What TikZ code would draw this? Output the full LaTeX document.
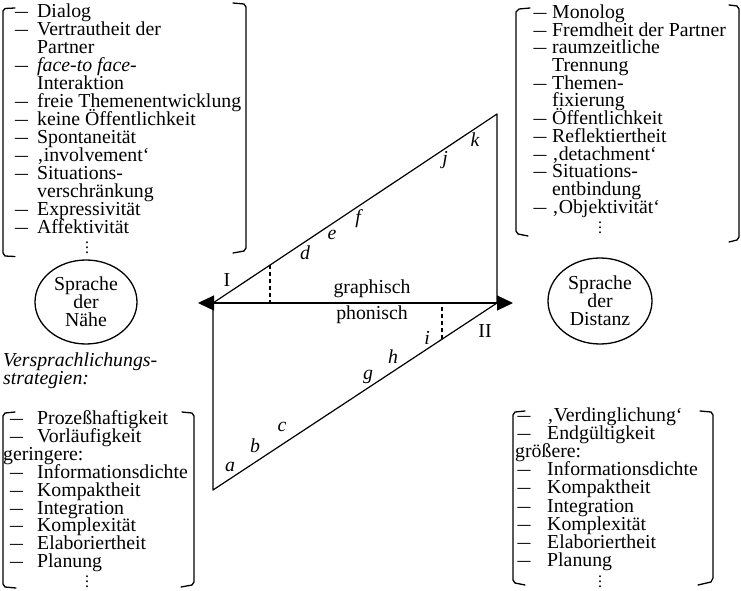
\documentclass[tikz,border=0pt]{standalone}
\usepackage{fontspec}
\setmainfont{Liberation Serif}
\usepackage{graphicx}
\usetikzlibrary{arrows.meta,shapes.geometric}
\tikzset{
  txt/.style={inner sep=0pt, font=\fontsize{19.8}{18}\selectfont},
  itemsty/.style={txt, anchor=base west},
  dashsty/.style={txt, anchor=base},
  lbl/.style={txt},
  ilbl/.style={txt, font=\fontsize{19.8}{18}\selectfont\itshape},
  brk/.style={line width=1.3pt, line join=round, line cap=round},
  diag/.style={line width=1.2pt, line join=round},
  dsh/.style={line width=1.2pt, dash pattern=on 4pt off 3pt},
  circ/.style={txt, draw, ellipse, line width=1.3pt, align=center},
  dotsty/.style={txt, font=\fontsize{16}{5}\selectfont},
}
\newcommand\myvdots{\vbox{\baselineskip=5pt\lineskiplimit=-10pt\hbox{.}\hbox{.}\hbox{.}}}
\newcommand\drawlist[7]{%
  \foreach \k/\t [count=\i] in {#7}{%
    \pgfmathsetmacro\yy{#5+(\i-1)*#6}
    \ifnum\k=1 \node[dashsty] (#1-d\i) at (#2,\yy) {\scalebox{1.3}[1]{–}};\fi
    \ifnum\k=2 \node[itemsty] (#1-\i) at (#4,\yy) {\t};
    \else \node[itemsty] (#1-\i) at (#3,\yy) {\t};\fi
  }}
\begin{document}
\begin{tikzpicture}[x=1pt,y=-1pt]
\useasboundingbox (0,0) rectangle (741,591);

% ---------- lists ----------
\drawlist{tl}{21.5}{37}{3}{17.5}{17.97}{1/Dialog, 1/Vertrautheit der, 0/Partner, 1/{\itshape face-to face-}, 0/Interaktion, 1/freie Themenentwicklung, 1/keine Öffentlichkeit, 1/Spontaneität, 1/‚involvement‘, 1/Situations-, 0/verschränkung, 1/Expressivität, 1/Affektivität}
\node[dotsty] (tl-dots) at (87,248) {\myvdots};

\drawlist{tr}{540}{552}{516}{18.5}{17.7}{1/Monolog, 1/Fremdheit der Partner, 1/raumzeitliche, 0/Trennung, 1/Themen-, 0/fixierung, 1/Öffentlichkeit, 1/Reflektiertheit, 1/‚detachment‘, 1/Situations-, 0/entbindung, 1/‚Objektivität‘}
\node[dotsty] (tr-dots) at (600,228) {\myvdots};

\drawlist{bl}{16.5}{37}{3}{424.5}{17.9}{1/Prozeßhaftigkeit, 1/Vorläufigkeit, 2/geringere:, 1/Informationsdichte, 1/Kompaktheit, 1/Integration, 1/Komplexität, 1/Elaboriertheit, 1/Planung}
\node[dotsty] (bl-dots) at (87,582) {\myvdots};

\drawlist{br}{524}{547}{515}{421.5}{18.1}{1/‚Verdinglichung‘, 1/Endgültigkeit, 2/größere:, 1/Informationsdichte, 1/Kompaktheit, 1/Integration, 1/Komplexität, 1/Elaboriertheit, 1/Planung}
\node[dotsty] (br-dots) at (600,582) {\myvdots};

% ---------- brackets ----------
% top left
\draw[brk] (15,8) -- (5,8.5) -- (3,11) -- (3,253) -- (5,256) -- (15,256.5);
\draw[brk] (233,3) -- (244,4) -- (246,7) -- (246,248) -- (244,251) -- (233,253);
% top right
\draw[brk] (530,8) -- (519,9) -- (516,12) -- (516,231) -- (518,234) -- (528,236);
\draw[brk] (729,5) -- (737,6) -- (739,9) -- (739,237) -- (737,240) -- (729,242);
% bottom left
\draw[brk] (15,412) -- (5,413) -- (3,416) -- (3,584) -- (5,587) -- (16,588);
\draw[brk] (182,412) -- (192,413) -- (194,416) -- (194,582) -- (192,585) -- (181,587);
% bottom right
\draw[brk] (525,411) -- (515,412) -- (513,415) -- (513,580) -- (515,583) -- (525,585);
\draw[brk] (700,411) -- (711,412) -- (713,415) -- (713,578) -- (711,582) -- (698,585);

% ---------- ellipses ----------
\node[circ, minimum width=102pt, minimum height=84pt] (naehe) at (86,302) {Sprache\\der\\Nähe};
\node[circ, minimum width=104pt, minimum height=86pt] (distanz) at (600,301) {Sprache\\der\\Distanz};

\node[ilbl, anchor=base west] (vs1) at (3,366) {Versprachlichungs-};
\node[ilbl, anchor=base west] (vs2) at (3,384) {strategien:};

% ---------- central diagram ----------
\coordinate (L) at (213,303);
\coordinate (R) at (497,303);
\coordinate (T) at (497,114);
\coordinate (B) at (213,490);
\coordinate (LA) at (198,303);
\coordinate (RA) at (513,303);

\draw[diag] (L) -- (T) -- (R);
\draw[diag] (L) -- (B) -- (R);
\draw[diag, {Triangle[length=16pt,width=15pt]}-{Triangle[length=16pt,width=15pt]}] (LA) -- (RA);

\path (L) -- (T) coordinate[pos=0.2007] (D1);
\path (B) -- (R) coordinate[pos=0.806] (D2);
\draw[dsh] (D1) -- (D1 |- L);
\draw[dsh] (D2) -- (D2 |- R);

\node[lbl] (lI) at (227,280) {I};
\node[lbl] (lII) at (485,331) {II};
\node[lbl] (graph) at (372,289) {graphisch};
\node[lbl] (phon) at (372,315) {phonisch};

\node[ilbl] (la) at (230,467) {a};
\node[ilbl] (lb) at (255,446) {b};
\node[ilbl] (lc) at (282,427) {c};
\node[ilbl] (ld) at (305,253) {d};
\node[ilbl] (le) at (332,235) {e};
\node[ilbl] (lf) at (358,219) {f};
\node[ilbl] (lg) at (368,377) {g};
\node[ilbl] (lh) at (393,357) {h};
\node[ilbl] (li) at (427,338) {i};
\node[ilbl] (lj) at (445,160) {j};
\node[ilbl] (lk) at (475,140) {k};
\end{tikzpicture}
\end{document}
